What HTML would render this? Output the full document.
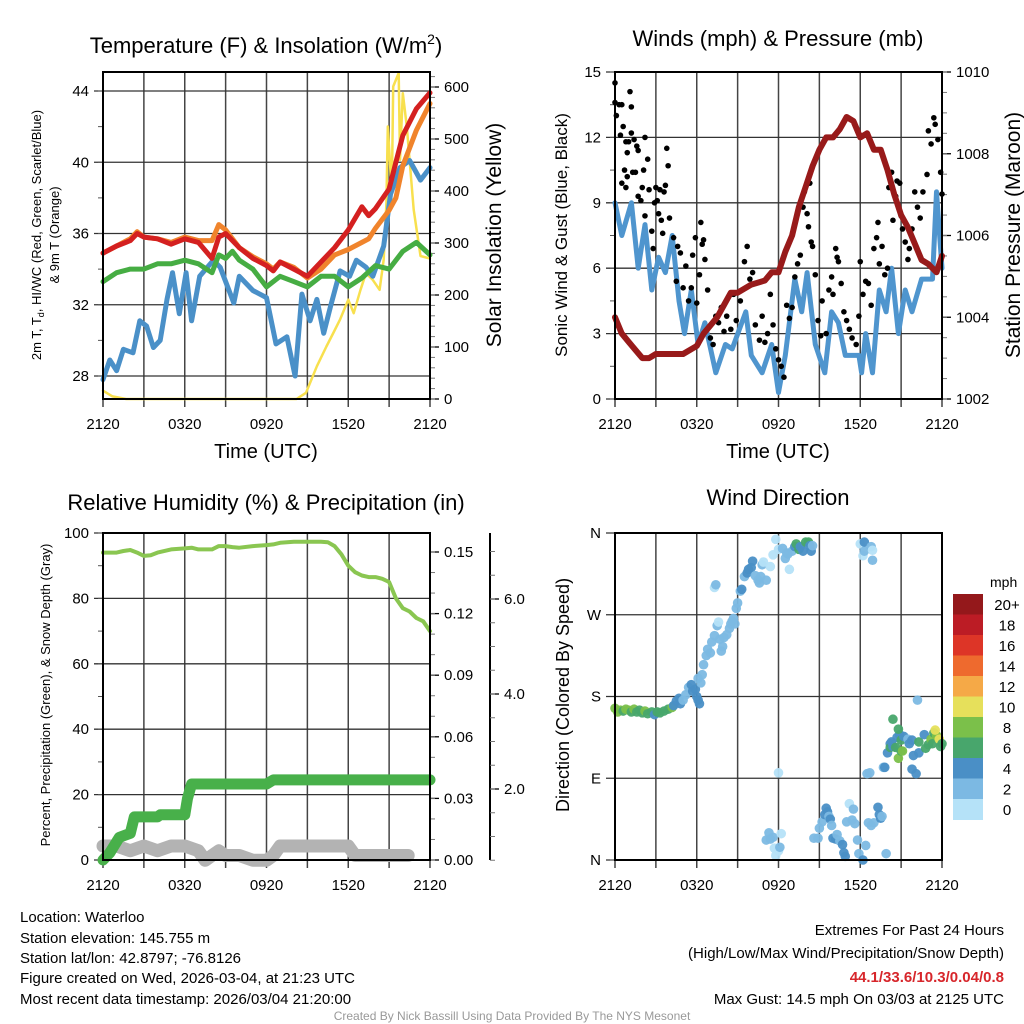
<!DOCTYPE html>
<html><head><meta charset="utf-8">
<style>
html,body{margin:0;padding:0;background:#fff;}
svg{display:block;font-family:"Liberation Sans",sans-serif;}
</style></head>
<body>
<svg id="chart" width="1024" height="1024" viewBox="0 0 1024 1024">
<rect x="0" y="0" width="1024" height="1024" fill="#fff"/>
<text x="266" y="53" font-size="22" text-anchor="middle">Temperature (F) &amp; Insolation (W/m<tspan font-size="14" dy="-9">2</tspan><tspan dy="9">)</tspan></text>
<text x="778" y="46" font-size="22" text-anchor="middle">Winds (mph) &amp; Pressure (mb)</text>
<text x="266" y="510" font-size="22" text-anchor="middle">Relative Humidity (%) &amp; Precipitation (in)</text>
<text x="778" y="505" font-size="22" text-anchor="middle">Wind Direction</text>
<text x="266" y="458" font-size="20" text-anchor="middle">Time (UTC)</text>
<text x="778" y="458" font-size="20" text-anchor="middle">Time (UTC)</text>
<text transform="translate(41,235) rotate(-90)" font-size="13" text-anchor="middle">2m T, T<tspan font-size="9" dy="3">d</tspan><tspan dy="-3">, HI/WC (Red, Green, Scarlet/Blue)</tspan></text>
<text transform="translate(59,235) rotate(-90)" font-size="13" text-anchor="middle">&amp; 9m T (Orange)</text>
<text transform="translate(501,235) rotate(-90)" font-size="21" text-anchor="middle">Solar Insolation (Yellow)</text>
<text transform="translate(567,235) rotate(-90)" font-size="17" text-anchor="middle">Sonic Wind &amp; Gust (Blue, Black)</text>
<text transform="translate(1020,235) rotate(-90)" font-size="21" text-anchor="middle">Station Pressure (Maroon)</text>
<text transform="translate(50,695) rotate(-90)" font-size="13" text-anchor="middle">Percent, Precipitation (Green), &amp; Snow Depth (Gray)</text>
<text transform="translate(569,695) rotate(-90)" font-size="18" text-anchor="middle">Direction (Colored By Speed)</text>
<g font-size="15">
<text x="20" y="922">Location: Waterloo</text>
<text x="20" y="943">Station elevation: 145.755 m</text>
<text x="20" y="963">Station lat/lon: 42.8797; -76.8126</text>
<text x="20" y="983">Figure created on Wed, 2026-03-04, at 21:23 UTC</text>
<text x="20" y="1004">Most recent data timestamp: 2026/03/04 21:20:00</text>
</g>
<g font-size="15" text-anchor="end">
<text x="1004" y="935">Extremes For Past 24 Hours</text>
<text x="1004" y="958">(High/Low/Max Wind/Precipitation/Snow Depth)</text>
<text x="1004" y="982" fill="#d7262b" font-weight="bold">44.1/33.6/10.3/0.04/0.8</text>
<text x="1004" y="1004">Max Gust: 14.5 mph On 03/03 at 2125 UTC</text>
</g>
<text x="512" y="1020" font-size="12" fill="#999" text-anchor="middle">Created By Nick Bassill Using Data Provided By The NYS Mesonet</text>
</svg>
<script>
// ---------- data ----------
const timeTickHours=[0,6,12,18,24];
const timeTickLabels=['2120','0320','0920','1520','2120'];
// Temperature panel
const tempTicks=[28,32,36,40,44];
const solarTicks=[0,100,200,300,400,500,600];
const tHours=[0,1,2,2.5,3,4,5,6,7,8,8.5,9,10,11,12,12.5,13,14,15,16,17,18,19,19.5,20,21,21.5,22,23,24];
const tempRed=[34.9,35.3,35.6,36.0,35.8,35.7,35.4,35.7,35.5,34.6,35.8,36.0,35.2,34.6,34.2,33.9,34.4,34.0,33.6,34.4,35.2,36.2,37.5,37.0,37.4,38.5,40.0,41.5,43.0,43.9];
const temp9m=[34.9,35.3,35.7,36.1,35.8,35.7,35.5,35.8,35.6,35.6,36.5,36.2,35.2,34.7,34.3,34.0,34.4,34.1,33.5,34.0,34.8,35.1,35.5,35.7,36.3,37.3,38.0,39.8,41.8,43.3];
const gHours=[0,1,2,3,4,5,6,7,8,8.5,9,9.5,10,11,12,13,14,15,16,17,18,19,20,21,22,23,24];
const tempGreen=[33.3,33.8,34.0,34.0,34.3,34.3,34.5,34.3,33.8,34.8,34.6,35.0,34.5,34.0,33.0,33.6,33.3,33.0,33.6,33.6,33.0,33.5,34.2,34.0,35.0,35.5,34.8];
const dHours=[0,0.5,1,1.5,2.2,2.7,3.2,3.7,4.2,4.7,5.1,5.6,6.1,6.5,7.1,8.1,8.6,9.6,10.0,11.0,11.5,12.0,12.7,13.5,14.1,14.6,15.2,15.7,16.2,16.7,17.4,18.1,18.6,19.3,19.8,20.6,21.1,21.8,22.5,23.3,24];
const dewBlue=[27.8,28.9,28.3,29.5,29.3,31.1,30.8,29.6,30.0,32.3,33.8,31.5,33.8,31.1,33.6,34.5,34.1,32.1,33.6,32.8,32.6,32.4,29.8,30.2,28.0,32.6,31.1,32.3,30.4,31.9,33.9,33.6,34.5,34.1,33.6,35.3,38.2,39.7,40.1,39.0,39.7];
const sHours=[0,0.7,1.7,14.2,14.9,15.7,16.4,16.9,17.4,18.0,18.4,18.9,19.3,19.8,20.3,20.6,20.8,20.9,21.2,21.3,21.7,21.8,22.0,22.3,22.8,23.3,24];
const solar=[16,5,0,0,12,63,101,127,153,191,165,210,242,229,210,268,377,524,396,601,627,460,588,524,364,275,270];
// Wind panel
const windTicks=[0,3,6,9,12,15];
const presTicks=[1002,1004,1006,1008,1010];
const wHours=[0,0.5,1.2,1.7,2.2,2.7,3.2,3.7,4.2,4.7,5.1,5.6,6.1,6.6,7.4,8.1,8.6,9.6,10,10.8,11.5,12,12.5,13.2,13.7,14.1,14.7,15.4,15.9,16.4,16.9,17.9,18.1,18.4,18.9,19.4,19.9,20.3,20.8,21.3,21.8,22.5,23.3,23.6,24];
const windSpeed=[9,7.5,9,6,8,5,6.5,5.8,7.5,4.5,3,5,2.5,3.5,1.2,2.5,2.3,4,2,1.2,2.5,0.3,2,5.5,4,5.8,2.5,1.2,4,3.5,2,2,1.2,3,1.2,5,4,6,3,5,4,5.5,5.5,9.5,6];
const pHours=[0,0.5,1,1.5,2,2.5,3,4,5,6,6.5,7,7.5,8,8.5,9,10,11,11.5,12,12.5,13,13.5,14,14.5,15,15.5,16,16.5,17,17.5,18,18.5,19,19.5,20,20.5,21,21.5,22,22.5,23,23.6,24];
const pressure=[1004,1003.6,1003.4,1003.2,1003,1003,1003.1,1003.1,1003.1,1003.3,1003.6,1003.8,1004,1004.3,1004.6,1004.6,1004.8,1004.9,1005.1,1005.1,1005.6,1006.0,1006.7,1007.2,1007.7,1008.1,1008.4,1008.4,1008.6,1008.9,1008.8,1008.4,1008.5,1008.1,1008.1,1007.6,1007.0,1006.5,1006.2,1005.8,1005.4,1005.3,1005.1,1005.5];
const gustHours=[0,0,0.1,0.3,0.4,0.5,0.5,0.6,0.7,0.8,0.8,0.9,0.9,1.0,1.1,1.2,1.2,1.3,1.4,1.5,1.6,1.7,1.7,1.9,2.0,2.1,2.2,2.2,2.4,2.5,2.7,2.8,2.9,3.0,3.1,3.2,3.3,3.4,3.5,3.6,3.7,3.8,3.9,4.0,4.3,4.5,4.6,4.8,5.0,5.2,5.4,5.6,5.7,5.9,6.0,6.2,6.3,6.4,6.5,6.6,6.8,7.0,7.2,7.4,7.6,7.8,8.0,8.2,8.5,8.7,8.9,9.2,9.5,9.7,9.9,10.1,10.3,10.6,10.8,11.0,11.2,11.4,11.6,11.8,12.0,12.2,12.4,12.6,12.8,13.0,13.2,13.4,13.6,13.8,13.9,14.1,14.2,14.3,14.4,14.5,14.7,14.9,15.1,15.2,15.5,15.7,15.9,16.0,16.2,16.3,16.4,16.6,16.8,17.0,17.2,17.4,17.7,17.9,18.0,18.2,18.4,18.6,18.8,19.0,19.2,19.3,19.4,19.6,19.8,20.0,20.1,20.3,20.4,20.6,20.7,20.9,21.0,21.1,21.3,21.5,21.6,21.8,22.0,22.2,22.4,22.6,22.9,23.0,23.2,23.4,23.5,23.7,23.9,24.0];
const gustSpeed=[14.5,13.6,13,13.5,12.1,13.5,9.9,12.5,10.5,11.8,9.7,11.3,10.2,11.8,14.1,13.4,12.2,10.4,11.9,10.4,11.6,11.4,9.3,9.1,9.7,10.5,12.0,8.4,11,9.6,7.7,6.9,9.0,9.7,9.1,8.5,9.6,8.2,7.6,9.5,9.8,11.5,10.7,8.3,7.4,5.4,7.0,6.7,5.1,6.1,4.5,5.1,6.6,7.4,4.4,5.7,8.1,7.1,7.3,6.4,5.0,2.8,2.5,3.8,3.5,4.2,3.1,3.8,3.2,4.8,3.6,4.5,6.3,7.0,5.5,5.8,3.4,2.7,3.8,2.6,3.0,4.8,3.4,2.3,1.8,1.5,1.0,4.3,3.7,4.2,5.6,6.2,6.6,8.8,9.5,8.5,7.9,9.9,7.2,7.0,5.7,3.6,2.9,4.5,3.0,5.0,5.6,4.8,6.9,6.5,6.3,5.3,4.0,3.6,3.2,2.8,2.5,3.8,6.3,4.8,5.4,5.3,4.3,6.9,7.4,8.1,6.2,7.0,5.7,6.0,9.7,10.4,8.2,9.3,10.0,9.9,8.4,7.8,7.2,6.4,6.9,7.8,9.5,8.8,8.3,9.5,10.3,12.3,11.7,12.9,12.6,11.9,10.4,9.4];
// Humidity panel
const rhTicks=[0,20,40,60,80,100];
const precipTicks=[0,0.03,0.06,0.09,0.12,0.15];
const snowTicks=[2,4,6];
const snowTickLabels=['2.0','4.0','6.0'];
const rhHours=[0,1,1.5,2,2.5,3,3.5,4,5,6,6.5,7,8,8.5,9,9.5,10,11,12,12.5,13,14,15,16,16.5,17,17.5,18,18.5,19,19.5,20,20.5,21,21.5,22,22.5,23,23.5,24];
const rh=[94,94,94.5,94.8,94,93,93.2,94,95,95.3,95.5,95,95,96,96,95.7,95.5,96,96.3,96.5,97,97.3,97.3,97.3,97.2,96,93.5,90,88,87,86.5,86.5,86,85,80,77,76,74,73,70];
const prHours=[0,0.5,1.2,2,2.3,3,4,4.2,5,6,6.2,6.5,7,12,12.5,24];
const precip=[0,0.0035,0.011,0.013,0.021,0.021,0.021,0.022,0.022,0.022,0.03,0.037,0.037,0.037,0.039,0.039];
const snHours=[0,1,2,3,4,5,6,7,7.5,8,8.5,9,10,11,12,12.5,13,14,15,16,17,18,18.5,19,20,21,22,22.4];
const snow=[0.8,0.8,0.7,0.8,0.7,0.8,0.8,0.7,0.5,0.6,0.7,0.6,0.6,0.5,0.5,0.6,0.8,0.8,0.8,0.8,0.8,0.8,0.6,0.6,0.6,0.6,0.6,0.6];
// Direction panel
const dirTicks=[0,90,180,270,360];
const dirTickLabels=['N','E','S','W','N'];
const dirHours=[0,0.2,0.4,0.6,0.8,1.0,1.2,1.4,1.6,1.8,2.0,2.2,2.4,2.7,2.9,3.1,3.3,3.6,3.9,4.2,4.3,4.5,4.7,4.8,5.0,5.2,5.4,5.6,5.7,5.9,6.0,6.1,6.2,6.1,6.3,6.4,6.5,6.7,6.8,7.0,7.1,7.3,7.5,7.6,7.7,7.8,7.9,8.0,8.2,8.4,8.5,8.6,8.7,8.8,7.3,7.4,8.9,9.0,9.2,9.3,9.5,9.7,9.8,10.0,10.1,10.3,10.5,10.6,10.7,10.8,10.9,11.1,11.4,11.6,11.8,12.0,12.3,12.5,12.6,12.7,12.8,13.0,13.2,13.3,13.5,13.6,13.8,14.0,14.2,14.3,14.4,14.5,18.0,18.2,18.3,18.3,18.8,18.9,18.9,11.1,11.3,11.4,11.6,11.7,11.8,12.0,12.1,12.2,12.0,14.6,14.9,15.0,15.2,15.4,15.5,15.6,15.7,15.8,15.9,16.0,16.2,16.3,16.5,16.7,16.8,16.9,17.0,17.2,17.5,17.4,17.6,17.8,17.9,18.2,18.4,18.6,18.8,19.0,19.3,19.4,19.5,19.6,19.9,18.5,18.7,19.7,19.8,20.0,20.2,20.2,20.3,20.4,20.6,20.8,20.7,20.9,21.0,21.0,21.2,21.5,21.6,21.8,21.9,21.8,22.1,22.3,22.3,22.7,22.8,23.0,23.2,23.3,23.4,23.6,23.5,23.8,23.9,24.0,22.2,20.4,20.8,21.1];
const dirDegrees=[167,163,165,164,166,165,163,166,163,165,162,164,161,163,160,163,162,164,166,168,170,175,178,172,176,182,190,193,186,188,180,176,172,200,195,204,215,225,232,228,240,247,258,262,243,230,235,245,248,255,260,263,266,260,300,303,277,283,296,298,312,316,320,322,329,313,308,305,312,325,328,308,323,336,353,342,343,332,338,337,320,340,345,348,342,345,340,350,350,346,340,346,348,335,340,350,345,341,330,22,30,23,25,13,5,10,14,29,96,24,24,35,42,50,57,53,48,45,38,24,23,28,21,17,8,4,42,62,56,44,40,22,7,0,16,41,38,41,58,50,46,48,7,95,96,102,102,118,128,124,130,125,124,112,135,138,132,120,136,133,128,132,115,100,95,118,130,138,123,127,133,128,140,137,143,133,125,128,176,155,144,120];
const dirSpeed=[8,8,8,7,8,8,7,8,7,6,7,8,6,6,5,6,6,6,6,8,4,4,4,4,3,3,3,4,4,4,4,4,4,3,3,3,3,2,3,2,2,2,2,1,2,2,2,2,2,2,2,2,2,3,1,2,2,3,3,4,3,4,4,4,4,2,2,2,2,2,1,2,1,1,1,0,2,2,2,2,0,3,4,6,6,4,4,6,6,4,4,2,0,1,2,4,2,1,2,2,2,2,2,1,1,1,2,1,1,2,2,2,2,4,4,4,3,4,2,4,4,2,3,4,4,4,2,1,2,2,2,2,2,4,2,2,2,2,4,4,4,2,2,2,2,2,4,4,4,6,4,4,6,8,4,4,6,6,4,2,4,4,4,4,4,4,6,4,6,6,8,6,6,8,10,10,6,6,2,6,6,8];
const speedBins=['0','2','4','6','8','10','12','14','16','18','20+'];
const speedColors=['#b5e2f8','#7cb9e3','#4a8fc6','#48a66c','#7bc04a','#e6e05b','#f5a947','#ee6a2e','#dd3527','#bc1c25','#94181b'];

// ---------- helpers ----------
const NS='http://www.w3.org/2000/svg';
const svg=document.getElementById('chart');
function mk(tag,attrs,parent){const e=document.createElementNS(NS,tag);for(const k in attrs)e.setAttribute(k,attrs[k]);(parent||svg).appendChild(e);return e;}
const P1={x0:103,x1:430,y0:72,y1:399},P2={x0:615,x1:942,y0:72,y1:399},P3={x0:103,x1:430,y0:533,y1:860},P4={x0:615,x1:942,y0:533,y1:860};
const xs=(p,h)=>p.x0+h/24*(p.x1-p.x0);
const y1L=v=>376-(v-28)*(376-91)/16;
const y1R=v=>399-v*(399-87)/600;
const y2L=v=>399-v*(399-72)/15;
const y2R=v=>399-(v-1002)*(327/8);
const y3L=v=>860-v*3.27;
const y3P=v=>860-v/0.15*(860-552);
const y3S=v=>884-v*47.5;
const y4=d=>860-d*327/360;

function frame(p,name){
  const g=mk('g',{});
  
  
  for(let h=0;h<=24;h+=3){
    const x=xs(p,h);
    const l=mk('line',{x1:x,x2:x,y1:p.y0,y2:p.y1+8,stroke:'#444','stroke-width':1.5},g);
    
    
  }
  timeTickHours.forEach((h,i)=>{
    const t=mk('text',{x:xs(p,h),y:p.y1+30,'font-size':15,'text-anchor':'middle'},g);
    t.textContent=timeTickLabels[i];
    
    
  });
  return g;
}
function hgrid(p,g,ticks,fy,labels,name,minorStep,minorFn,lo,hi){
  ticks.forEach((v,i)=>{
    const y=fy(v);
    const l=mk('line',{x1:p.x0-9,x2:p.x1,y1:y,y2:y,stroke:'#333','stroke-width':1.3},g);
    
    
    const t=mk('text',{x:p.x0-14,y:y+5,'font-size':15,'text-anchor':'end'},g);
    t.textContent=labels?labels[i]:v;
    
    
  });
  for(let v=lo;v<=hi+1e-9;v+=minorStep){
    const y=minorFn(v);
    const l=mk('line',{x1:p.x0-5,x2:p.x0,y1:y,y2:y,stroke:'#555','stroke-width':1},g);
    
    
  }
}
function rightAxis(p,g,x,ticks,fy,labels,name,minorStep,lo,hi,fs){
  const ax=mk('line',{x1:x,x2:x,y1:p.y0,y2:p.y1,stroke:'#000','stroke-width':2},g);
  
  
  ticks.forEach((v,i)=>{
    const y=fy(v);
    const l=mk('line',{x1:x,x2:x+9,y1:y,y2:y,stroke:'#000','stroke-width':1.3},g);
    
    
    const t=mk('text',{x:x+14,y:y+5,'font-size':fs||15},g);
    t.textContent=labels?labels[i]:v;
    
    
  });
  for(let v=lo;v<=hi+1e-9;v+=minorStep){
    const y=fy(v); if(y<p.y0-0.5||y>p.y1+0.5)continue;
    const l=mk('line',{x1:x,x2:x+5,y1:y,y2:y,stroke:'#777','stroke-width':1},g);
    
    
  }
}
function line(p,hours,vals,fy,color,w,name){
  const pts=hours.map((h,i)=>xs(p,h).toFixed(1)+','+fy(vals[i]).toFixed(1)).join(' ');
  const pl=mk('polyline',{points:pts,fill:'none',stroke:color,'stroke-width':w,'stroke-linejoin':'round','stroke-linecap':'round'});
  
  
}
function box(p,name){
  const r=mk('rect',{x:p.x0,y:p.y0,width:p.x1-p.x0,height:p.y1-p.y0,fill:'none',stroke:'#000','stroke-width':2});
  
  
}

// Panel 1
let g=frame(P1,'temp');
hgrid(P1,g,tempTicks,y1L,null,'temp',2,y1L,28,44);
rightAxis(P1,g,P1.x1,solarTicks,y1R,null,'solar',20,0,620);
line(P1,sHours,solar,y1R,'#f8e04e',2.5,'solar-line');
line(P1,dHours,dewBlue,y1L,'#4a90c8',5,'dewpoint-line');
line(P1,gHours,tempGreen,y1L,'#46ad43',5,'heat-index-line');
line(P1,tHours,temp9m,y1L,'#f0842c',5,'temp-9m-line');
line(P1,tHours,tempRed,y1L,'#d42020',5,'temp-2m-line');
box(P1,'temp');

// Panel 2
g=frame(P2,'wind');
hgrid(P2,g,windTicks,y2L,null,'wind',1.5,y2L,0,15);
rightAxis(P2,g,P2.x1,presTicks,y2R,null,'pressure',0.5,1002,1010);
line(P2,wHours,windSpeed,y2L,'#4f95ce',5,'wind-speed-line');
gustHours.forEach((h,i)=>{
  const c=mk('circle',{cx:xs(P2,h),cy:y2L(gustSpeed[i]),r:2.8,fill:'#000'});
  
  
});
line(P2,pHours,pressure,y2R,'#981a1a',6,'pressure-line');
box(P2,'wind');

// Panel 3
g=frame(P3,'humidity');
hgrid(P3,g,rhTicks,y3L,null,'humidity',10,y3L,0,100);
rightAxis(P3,g,P3.x1,precipTicks,y3P,precipTicks.map(v=>v.toFixed(2)),'precip',0.01,0,0.16);
rightAxis(P3,g,490,snowTicks,y3S,snowTickLabels,'snow-depth',0.5,0.5,7);
line(P3,snHours,snow,y3S,'#b3b3b3',13,'snow-depth-line');
line(P3,prHours,precip,y3P,'#48b04a',11,'precip-line');
line(P3,rhHours,rh,y3L,'#8ac651',4,'humidity-line');
box(P3,'humidity');

// Panel 4
g=frame(P4,'direction');
hgrid(P4,g,dirTicks,y4,dirTickLabels,'direction',90,y4,0,0);
dirHours.forEach((h,i)=>{
  const b=Math.min(10,Math.floor(dirSpeed[i]/2));
  const c=mk('circle',{cx:xs(P4,h),cy:y4(dirDegrees[i]),r:4.8,fill:speedColors[b],'fill-opacity':0.95});
  
  
});
box(P4,'direction');
// colorbar
const cb=mk('g',{});


const mph=mk('text',{x:990,y:587,'font-size':14},cb);
mph.textContent='mph';


const cbTop=594,cbH=20.5;
speedBins.forEach((lab,i)=>{
  const k=10-i;
  const r=mk('rect',{x:953,y:cbTop+i*cbH,width:30,height:cbH+0.5,fill:speedColors[k]},cb);
  
  
  const t=mk('text',{x:1007,y:cbTop+i*cbH+16,'font-size':15,'text-anchor':'middle'},cb);
  t.textContent=speedBins[k];
  
  
});
</script>
</body></html>
